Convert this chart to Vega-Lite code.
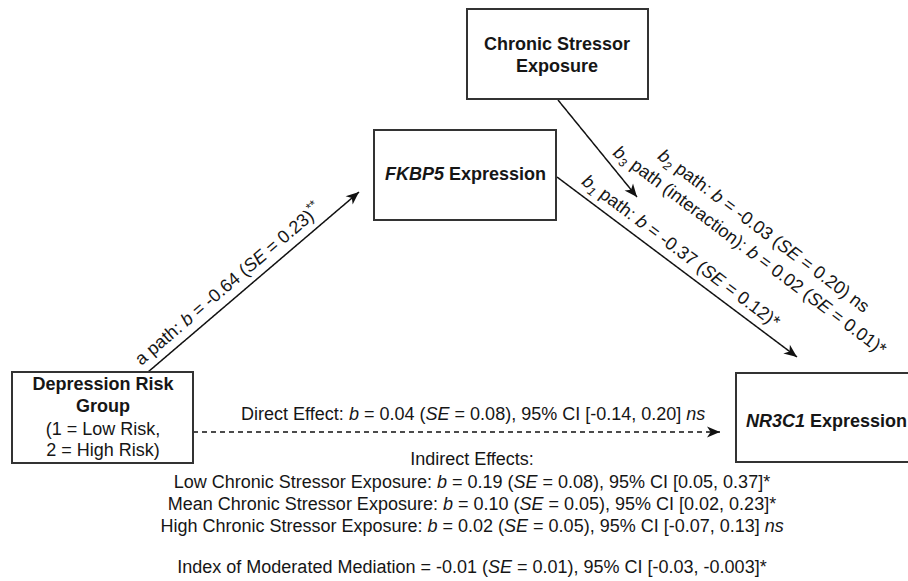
{
  "$schema": "https://vega.github.io/schema/vega-lite/v6.json",
  "width": 908,
  "height": 581,
  "autosize": {"type": "none"},
  "padding": 0,
  "background": "white",
  "config": {
    "view": {"stroke": null},
    "text": {"font": "Liberation Sans", "fontSize": 18, "color": "#161616"}
  },
  "datasets": {
    "boxes": [
      {"node": "Chronic Stressor Exposure", "x": 467, "y": 9, "x2": 648, "y2": 99},
      {"node": "FKBP5 Expression", "x": 374, "y": 130, "x2": 556, "y2": 220},
      {"node": "Depression Risk Group", "x": 12, "y": 372, "x2": 193, "y2": 463},
      {"node": "NR3C1 Expression", "x": 736, "y": 373, "x2": 915, "y2": 462}
    ],
    "edges": [
      {"edge": "a", "kind": "solid", "x": 148, "y": 372, "x2": 359, "y2": 192, "angle": -40.5},
      {"edge": "b1", "kind": "solid", "x": 557, "y": 177, "x2": 797, "y2": 357, "angle": 36.87},
      {"edge": "moderation", "kind": "solid", "x": 558, "y": 100, "x2": 637, "y2": 197, "angle": 50.8},
      {"edge": "direct", "kind": "dashed", "x": 193, "y": 432, "x2": 720, "y2": 432, "angle": 0}
    ],
    "boldCenter": [
      {"x": 557, "y": 45, "t": "Chronic Stressor"},
      {"x": 557, "y": 67, "t": "Exposure"},
      {"x": 103, "y": 385, "t": "Depression Risk"},
      {"x": 103, "y": 407, "t": "Group"}
    ],
    "boldItalicRight": [
      {"x": 444, "y": 175, "t": "FKBP5"},
      {"x": 805, "y": 422, "t": "NR3C1"}
    ],
    "boldLeft": [
      {"x": 449, "y": 175, "t": "Expression"},
      {"x": 810, "y": 422, "t": "Expression"}
    ],
    "regCenter": [
      {"x": 103, "y": 430, "t": "(1 = Low Risk,"},
      {"x": 103, "y": 451, "t": "2 = High Risk)"},
      {"x": 472, "y": 460, "t": "Indirect Effects:"}
    ],
    "regLeft": [
      {"x": 241, "y": 415, "t": "Direct Effect:"},
      {"x": 364.0, "y": 415, "t": "= 0.04 ("},
      {"x": 454.6, "y": 415, "t": "= 0.08), 95% CI [-0.14, 0.20]"},
      {"x": 173.8, "y": 483, "t": "Low Chronic Stressor Exposure:"},
      {"x": 451.9, "y": 483, "t": "= 0.19 ("},
      {"x": 542.5, "y": 483, "t": "= 0.08), 95% CI [0.05, 0.37]*"},
      {"x": 167.8, "y": 505, "t": "Mean Chronic Stressor Exposure:"},
      {"x": 457.9, "y": 505, "t": "= 0.10 ("},
      {"x": 548.5, "y": 505, "t": "= 0.05), 95% CI [0.02, 0.23]*"},
      {"x": 160.4, "y": 527, "t": "High Chronic Stressor Exposure:"},
      {"x": 442.5, "y": 527, "t": "= 0.02 ("},
      {"x": 533.1, "y": 527, "t": "= 0.05), 95% CI [-0.07, 0.13]"},
      {"x": 177.3, "y": 568, "t": "Index of Moderated Mediation = -0.01 ("},
      {"x": 517.0, "y": 568, "t": "= 0.01), 95% CI [-0.03, -0.003]*"}
    ],
    "italicLeft": [
      {"x": 349.0, "y": 415, "t": "b"},
      {"x": 425.6, "y": 415, "t": "SE"},
      {"x": 686.2, "y": 415, "t": "ns"},
      {"x": 436.9, "y": 483, "t": "b"},
      {"x": 513.4, "y": 483, "t": "SE"},
      {"x": 442.9, "y": 505, "t": "b"},
      {"x": 519.4, "y": 505, "t": "SE"},
      {"x": 427.5, "y": 527, "t": "b"},
      {"x": 504.0, "y": 527, "t": "SE"},
      {"x": 764.7, "y": 527, "t": "ns"},
      {"x": 488.0, "y": 568, "t": "SE"}
    ],
    "rotReg": [
      {"x": 138.1, "y": 362.1, "t": "a path:", "angle": -40.5},
      {"x": 195.2, "y": 313.4, "t": "= -0.64 (", "angle": -40.5},
      {"x": 268.7, "y": 250.7, "t": "= 0.23)", "angle": -40.5},
      {"x": 601.2, "y": 192.6, "t": "path:", "angle": 36.87},
      {"x": 649.2, "y": 228.6, "t": "= -0.37 (", "angle": 36.87},
      {"x": 726.4, "y": 286.5, "t": "= 0.12)*", "angle": 36.87},
      {"x": 632.4, "y": 163.5, "t": "path", "angle": 36.87},
      {"x": 664.4, "y": 187.5, "t": "(interaction):", "angle": 36.87},
      {"x": 760.4, "y": 259.5, "t": "= 0.02 (", "angle": 36.87},
      {"x": 832.8, "y": 313.8, "t": "= 0.01)*", "angle": 36.87},
      {"x": 677.1, "y": 167.1, "t": "path:", "angle": 36.87},
      {"x": 725.1, "y": 203.1, "t": "= -0.03 (", "angle": 36.87},
      {"x": 802.3, "y": 261.0, "t": "= 0.20)", "angle": 36.87},
      {"x": 851.5, "y": 297.9, "t": "ns", "angle": 36.87}
    ],
    "rotItalic": [
      {"x": 183.7, "y": 323.2, "t": "b", "angle": -40.5},
      {"x": 246.6, "y": 269.5, "t": "SE", "angle": -40.5},
      {"x": 583.8, "y": 179.6, "t": "b", "angle": 36.87},
      {"x": 637.2, "y": 219.6, "t": "b", "angle": 36.87},
      {"x": 703.2, "y": 269.1, "t": "SE", "angle": 36.87},
      {"x": 615.0, "y": 150.5, "t": "b", "angle": 36.87},
      {"x": 748.4, "y": 250.5, "t": "b", "angle": 36.87},
      {"x": 809.6, "y": 296.4, "t": "SE", "angle": 36.87},
      {"x": 659.7, "y": 154.0, "t": "b", "angle": 36.87},
      {"x": 713.1, "y": 194.1, "t": "b", "angle": 36.87},
      {"x": 779.1, "y": 243.6, "t": "SE", "angle": 36.87}
    ],
    "rotSub": [
      {"x": 588.8, "y": 189.6, "t": "1", "angle": 36.87},
      {"x": 620.0, "y": 160.5, "t": "3", "angle": 36.87},
      {"x": 664.7, "y": 164.0, "t": "2", "angle": 36.87}
    ],
    "rotSup": [
      {"x": 307.8, "y": 209.4, "t": "**", "angle": -40.5}
    ]
  },
  "encoding": {
    "x": {"field": "x", "type": "quantitative", "scale": {"domain": [0, 908], "nice": false, "zero": false}, "axis": null},
    "y": {"field": "y", "type": "quantitative", "scale": {"domain": [0, 581], "nice": false, "zero": false, "reverse": true}, "axis": null}
  },
  "layer": [
    {
      "data": {"name": "edges"},
      "mark": {"type": "rule", "color": "#111111", "strokeWidth": 1.5},
      "encoding": {
        "x2": {"field": "x2"},
        "y2": {"field": "y2"},
        "strokeDash": {"field": "kind", "type": "nominal", "scale": {"domain": ["solid", "dashed"], "range": [[1, 0], [5, 4]]}, "legend": null}
      }
    },
    {
      "data": {"name": "edges"},
      "mark": {"type": "point", "shape": "M0,0 L-1,-0.42 L-0.72,0 L-1,0.42 Z", "filled": true, "size": 676, "color": "#111111", "opacity": 1, "strokeWidth": 0},
      "encoding": {
        "x": {"field": "x2", "type": "quantitative", "scale": {"domain": [0, 908], "nice": false, "zero": false}, "axis": null},
        "y": {"field": "y2", "type": "quantitative", "scale": {"domain": [0, 581], "nice": false, "zero": false, "reverse": true}, "axis": null},
        "angle": {"field": "angle", "type": "quantitative", "scale": null}
      }
    },
    {
      "data": {"name": "boxes"},
      "mark": {"type": "rect", "fill": "white", "stroke": "#333333", "strokeWidth": 2},
      "encoding": {"x2": {"field": "x2"}, "y2": {"field": "y2"}}
    },
    {
      "data": {"name": "boldCenter"},
      "mark": {"type": "text", "fontWeight": "bold", "align": "center", "baseline": "middle"},
      "encoding": {"text": {"field": "t"}}
    },
    {
      "data": {"name": "boldItalicRight"},
      "mark": {"type": "text", "fontWeight": "bold", "fontStyle": "italic", "align": "right", "baseline": "middle"},
      "encoding": {"text": {"field": "t"}}
    },
    {
      "data": {"name": "boldLeft"},
      "mark": {"type": "text", "fontWeight": "bold", "align": "left", "baseline": "middle"},
      "encoding": {"text": {"field": "t"}}
    },
    {
      "data": {"name": "regCenter"},
      "mark": {"type": "text", "align": "center", "baseline": "middle"},
      "encoding": {"text": {"field": "t"}}
    },
    {
      "data": {"name": "regLeft"},
      "mark": {"type": "text", "align": "left", "baseline": "middle"},
      "encoding": {"text": {"field": "t"}}
    },
    {
      "data": {"name": "italicLeft"},
      "mark": {"type": "text", "fontStyle": "italic", "align": "left", "baseline": "middle"},
      "encoding": {"text": {"field": "t"}}
    },
    {
      "data": {"name": "rotReg"},
      "mark": {"type": "text", "align": "left", "baseline": "middle"},
      "encoding": {"text": {"field": "t"}, "angle": {"field": "angle", "type": "quantitative", "scale": null}}
    },
    {
      "data": {"name": "rotItalic"},
      "mark": {"type": "text", "fontStyle": "italic", "align": "left", "baseline": "middle"},
      "encoding": {"text": {"field": "t"}, "angle": {"field": "angle", "type": "quantitative", "scale": null}}
    },
    {
      "data": {"name": "rotSub"},
      "mark": {"type": "text", "fontStyle": "italic", "fontSize": 12, "align": "left", "baseline": "middle"},
      "encoding": {"text": {"field": "t"}, "angle": {"field": "angle", "type": "quantitative", "scale": null}}
    },
    {
      "data": {"name": "rotSup"},
      "mark": {"type": "text", "fontSize": 13, "align": "left", "baseline": "middle"},
      "encoding": {"text": {"field": "t"}, "angle": {"field": "angle", "type": "quantitative", "scale": null}}
    }
  ]
}
